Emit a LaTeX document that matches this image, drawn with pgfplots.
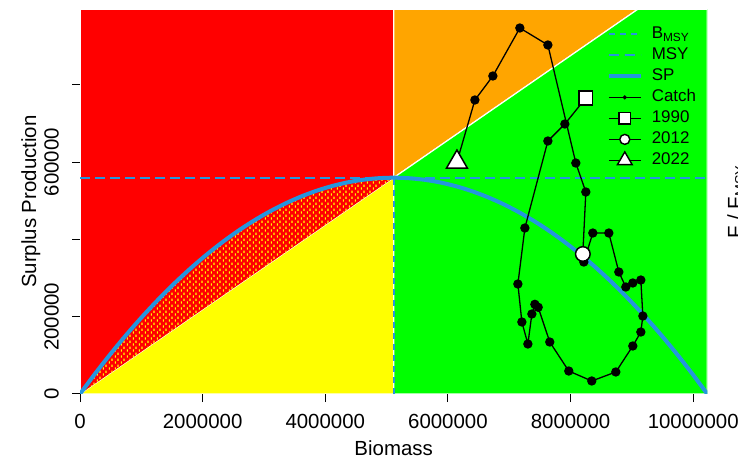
\documentclass[border=0pt]{standalone}
\usepackage{fontspec}
\setmainfont{Liberation Sans}
\usepackage{pgfplots}
\pgfplotsset{compat=1.18}
\usetikzlibrary{patterns}
\definecolor{spblue}{RGB}{37,150,222}
\definecolor{cred}{RGB}{255,0,0}
\definecolor{cyellow}{RGB}{255,255,0}
\definecolor{corange}{RGB}{255,165,0}
\definecolor{cgreen}{RGB}{0,255,0}
\pgfdeclarepatternformonly{ydash}{\pgfpoint{0bp}{0bp}}{\pgfpoint{6bp}{6bp}}{\pgfpoint{6bp}{6bp}}{%
  \pgfpathrectangle{\pgfpoint{1bp}{0.5bp}}{\pgfpoint{1.3bp}{2.6bp}}%
  \pgfpathrectangle{\pgfpoint{4bp}{3.5bp}}{\pgfpoint{1.3bp}{2.6bp}}%
  \pgfusepath{fill}}
\begin{document}
\begin{tikzpicture}
\path[use as bounding box] (0,0) rectangle (738bp,460bp);
\begin{axis}[
  at={(80bp,66bp)}, anchor=south west,
  width=627.3bp, height=384.7bp, scale only axis,
  xmin=0, xmax=10230000, ymin=0, ymax=996000,
  axis x line*=bottom, axis y line*=left, axis line style={draw=none},
  scaled ticks=false,
  tick align=outside, major tick length=8bp,
  tick style={black, line width=1bp},
  xtick={0,2000000,4000000,6000000,8000000,10000000},
  xticklabels={0,2000000,4000000,6000000,8000000,10000000},
  ytick={0,200000,400000,600000,800000},
  yticklabels={0,200000,,600000,},
  ticklabel style={font=\fontsize{20.5}{20.5}\selectfont},
  yticklabel style={rotate=90, anchor=south, inner sep=0pt},
  xticklabel style={anchor=north, inner sep=0pt},
  yticklabel shift=13bp,
  xticklabel shift=12bp,
  every axis x label/.style={at={(axis description cs:0.5,-0.1586)}, anchor=base, font=\fontsize{20.5}{20.5}\selectfont},
  every axis y label/.style={at={(axis description cs:-0.0701,0.5)}, rotate=90, anchor=base, font=\fontsize{20.5}{20.5}\selectfont},
  xlabel={Biomass}, ylabel={Surplus Production},
  legend image code/.code={\draw[mark repeat=2,mark phase=2,#1] plot coordinates {(0bp,0bp) (16bp,0bp) (32bp,0bp)};},
  legend cell align=left,
  legend style={draw=none, fill=none, at={(axis description cs:0.8395,0.9626)}, anchor=north west,
    font=\fontsize{17}{17}\selectfont, row sep=0pt, column sep=5bp, inner sep=0pt,
    nodes={inner xsep=4bp, inner ysep=2bp, text height=13bp, text depth=4bp}},
]
% legend entries
\addlegendimage{spblue, line width=2bp, dash pattern=on 6bp off 5bp}
\addlegendentry{B\textsubscript{MSY}}
\addlegendimage{spblue, line width=2bp, dash pattern=on 10bp off 6bp}
\addlegendentry{MSY}
\addlegendimage{spblue, line width=4bp}
\addlegendentry{SP}
\addlegendimage{black, line width=1.3bp, mark=*, mark size=1.3bp}
\addlegendentry{Catch}
\addlegendimage{black, line width=1.3bp, mark=square*, mark size=5.8bp, mark options={fill=white, draw=black, line width=1.4bp}}
\addlegendentry{1990}
\addlegendimage{black, line width=1.3bp, mark=*, mark size=5bp, mark options={fill=white, draw=black, line width=1.4bp}}
\addlegendentry{2012}
\addlegendimage{black, line width=1.3bp, mark=triangle*, mark size=8.5bp, mark options={fill=white, draw=black, line width=1.4bp}}
\addlegendentry{2022}

% regions
\addplot[forget plot, fill=cred, draw=white, line width=1.2bp] coordinates {(0,0) (5115000,0) (5115000,996000) (0,996000)} -- cycle;
\addplot[forget plot, fill=cyellow, draw=white, line width=1.2bp] coordinates {(0,0) (5115000,0) (5115000,560000)} -- cycle;
\addplot[forget plot, fill=corange, draw=white, line width=1.2bp] coordinates {(5115000,560000) (5115000,996000) (9096000,996000)} -- cycle;
\addplot[forget plot, fill=cgreen, draw=white, line width=1.2bp] coordinates {(5115000,0) (5115000,560000) (9096000,996000) (10230000,996000) (10230000,0)} -- cycle;
% hatched region between SP and F=FMSY line
\addplot[forget plot, fill=cred, draw=none, smooth] coordinates {
(0,0) (255750,54600) (511500,106400) (767250,155400) (1023000,201600) (1278750,245000)
(1534500,285600) (1790250,323400) (2046000,358400) (2301750,390600) (2557500,420000)
(2813250,446600) (3069000,470400) (3324750,491400) (3580500,509600) (3836250,525000)
(4092000,537600) (4347750,547400) (4603500,554400) (4859250,558600) (5115000,560000)} -- cycle;
\addplot[forget plot, pattern=ydash, pattern color=cyellow, draw=none, smooth] coordinates {
(0,0) (255750,54600) (511500,106400) (767250,155400) (1023000,201600) (1278750,245000)
(1534500,285600) (1790250,323400) (2046000,358400) (2301750,390600) (2557500,420000)
(2813250,446600) (3069000,470400) (3324750,491400) (3580500,509600) (3836250,525000)
(4092000,537600) (4347750,547400) (4603500,554400) (4859250,558600) (5115000,560000)} -- cycle;

% reference lines
\addplot[forget plot, spblue, line width=2bp, dash pattern=on 10bp off 5bp] coordinates {(0,560000) (10230000,560000)};
\addplot[forget plot, spblue, line width=2bp, dash pattern=on 6bp off 5bp] coordinates {(5115000,0) (5115000,560000)};

% SP curve
\addplot[forget plot, spblue, line width=4bp, smooth] coordinates {
(0,0) (255750,54600) (511500,106400) (767250,155400) (1023000,201600) (1278750,245000)
(1534500,285600) (1790250,323400) (2046000,358400) (2301750,390600) (2557500,420000)
(2813250,446600) (3069000,470400) (3324750,491400) (3580500,509600) (3836250,525000)
(4092000,537600) (4347750,547400) (4603500,554400) (4859250,558600) (5115000,560000)
(5370750,558600) (5626500,554400) (5882250,547400) (6138000,537600) (6393750,525000)
(6649500,509600) (6905250,491400) (7161000,470400) (7416750,446600) (7672500,420000)
(7928250,390600) (8184000,358400) (8439750,323400) (8695500,285600) (8951250,245000)
(9207000,201600) (9462750,155400) (9718500,106400) (9974250,54600) (10230000,0)};

% catch trajectory
\addplot[forget plot, black, line width=1.3bp, mark=*, mark size=4bp, mark options={fill=black}] coordinates {
(8249000,766300) (7907000,699000) (7630000,655000) (7255000,429800) (7141000,284800)
(7206000,186400) (7304000,129500) (7369000,207100) (7418000,232200) (7472000,224500)
(7661000,134600) (7971000,59500) (8346000,33700) (8738000,57000) (9015000,124300)
(9146000,160500) (9179000,201900) (9146000,295100) (9015000,287400) (8901000,277000)
(8787000,315900) (8624000,416800) (8363000,416800) (8216000,341700) (8200000,362500)
(8249000,523000) (8086000,598000) (7630000,903600) (7173000,947600) (6733000,823300)
(6440000,761200) (6147000,600600)};

% highlighted years
\addplot[forget plot, only marks, mark=square*, mark size=6.85bp, mark options={fill=white, draw=black, line width=1.5bp}] coordinates {(8249000,766300)};
\addplot[forget plot, only marks, mark=*, mark size=7.3bp, mark options={fill=white, draw=black, line width=1.5bp}] coordinates {(8200000,362500)};
\addplot[forget plot, only marks, mark=triangle*, mark size=12bp, mark options={fill=white, draw=black, line width=1.5bp}] coordinates {(6147000,600600)};
\end{axis}
\node[rotate=90, anchor=base, font=\fontsize{20.5}{20.5}\selectfont] at (742bp,258bp) {F / F\textsubscript{MSY}};
\end{tikzpicture}
\end{document}
